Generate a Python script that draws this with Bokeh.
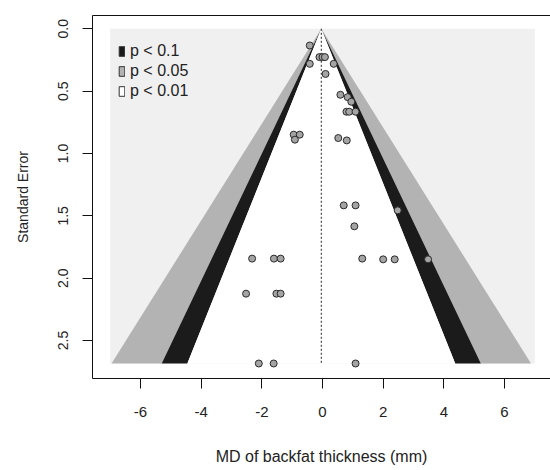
import math
from bokeh.plotting import figure
from bokeh.models import (ColumnDataSource, Range1d, FixedTicker, LinearAxis,
                          Legend, LegendItem)
from bokeh.embed import file_html
from bokeh.resources import INLINE

# Study-level mean differences and their standard errors
md = [-0.42, -0.10, 0.0, 0.08, -0.42, 0.37, 0.10, 0.59, 0.83, 0.95,
      0.79, 0.88, 1.09, -0.95, -0.75, -0.91, 0.52, 0.80, 0.70, 1.09,
      2.48, 1.05, -2.32, -1.60, -1.38, 1.31, 2.00, 2.38, 3.48, -2.52,
      -1.52, -1.38, -2.10, -1.61, 1.09]
se = [0.134, 0.227, 0.227, 0.227, 0.281, 0.281, 0.362, 0.529, 0.548, 0.585,
      0.665, 0.665, 0.665, 0.849, 0.849, 0.889, 0.876, 0.895, 1.416, 1.416,
      1.456, 1.584, 1.843, 1.843, 1.843, 1.843, 1.849, 1.849, 1.849, 2.124,
      2.124, 2.124, 2.684, 2.684, 2.684]

estimate = -0.04                     # pooled estimate (funnel centre)
xlim = [-7.0, 7.0]                   # shaded plotting region
z_levels = [2.576, 1.96, 1.645]      # contour edges, outermost first
band_colors = ["#b3b3b3", "#1b1b1b"]  # outer band, middle band
inner_color = "#ffffff"
legend_labels = ["p < 0.1", "p < 0.05", "p < 0.01"]
legend_colors = ["#1b1b1b", "#b3b3b3", "#ffffff"]
x_ticks = [-6, -4, -2, 0, 2, 4, 6]
x_tick_labels = ["-6", "-4", "-2", "0", "2", "4", "6"]
y_ticks = [0.0, 0.5, 1.0, 1.5, 2.0, 2.5]
y_tick_labels = ["0.0", "0.5", "1.0", "1.5", "2.0", "2.5"]

FONT = "Liberation Sans"
max_se = max(se)

p = figure(width=550, height=470, output_backend="svg", toolbar_location=None,
           x_range=Range1d(-7.582, 7.516), y_range=Range1d(2.8043, -0.10666),
           min_border_left=92, min_border_right=0, min_border_top=15,
           min_border_bottom=92, x_axis_location="below",
           y_axis_location="left")
p.outline_line_color = None
p.grid.visible = False
p.background_fill_color = "white"
p.border_fill_color = "white"

# light background over the plotting region
p.quad(left=[xlim[0]], right=[xlim[1]], bottom=[max_se], top=[0],
       fill_color="#f0f0f0", line_color=None)

# contour-enhanced funnel: side bands as separate wedges, then inner triangle
for i, col in enumerate(band_colors):
    zo, zi = z_levels[i], z_levels[i + 1]
    xs, ys = [], []
    for sgn in (-1, 1):
        xs.append([estimate, estimate + sgn * zo * max_se,
                   estimate + sgn * zi * max_se])
        ys.append([0, max_se, max_se])
    p.patches(xs, ys, fill_color=col, line_color=None)
half = z_levels[-1] * max_se
p.patch([estimate, estimate - half, estimate + half], [0, max_se, max_se],
        fill_color=inner_color, line_color=None)

# reference line at the pooled estimate
p.line([estimate, estimate], [0, max_se], line_color="#222222",
       line_width=1, line_dash="2 2")

# studies
src = ColumnDataSource(dict(md=md, se=se))
p.scatter("md", "se", source=src, size=7, fill_color="#a4a4a4",
          line_color="#2a2a2a", line_width=1)

# legend keys (one undrawn row each so the key swatch has its colour)
items = []
for lab, col in zip(legend_labels, legend_colors):
    r = p.quad(left=[math.nan], right=[math.nan], bottom=[math.nan],
               top=[math.nan], fill_color=col, line_color="#333333",
               line_width=1)
    items.append(LegendItem(label=lab, renderers=[r]))
leg = Legend(items=items, location="top_left", margin=26, padding=0,
             spacing=0, glyph_width=7, glyph_height=12, label_standoff=5,
             label_height=20, label_text_font=FONT,
             label_text_font_size="16px", label_text_color="#222222",
             background_fill_alpha=0, border_line_color=None)
p.add_layout(leg, "center")

# axes
xa = p.xaxis[0]
xa.ticker = FixedTicker(ticks=x_ticks)
xa.major_label_overrides = {t: s for t, s in zip(x_ticks, x_tick_labels)}
xa.axis_label = "MD of backfat thickness (mm)"
ya = p.yaxis[0]
ya.ticker = FixedTicker(ticks=y_ticks)
ya.major_label_overrides = {t: s for t, s in zip(y_ticks, y_tick_labels)}
ya.axis_label = "Standard Error"
ya.major_label_orientation = "parallel"

for ax, fs, lfs in ((xa, "15px", "16px"), (ya, "14px", "14px")):
    ax.minor_tick_line_color = None
    ax.major_tick_out = 10
    ax.major_tick_in = 0
    ax.axis_line_color = "#111111"
    ax.major_tick_line_color = "#111111"
    ax.major_label_text_font = FONT
    ax.major_label_text_font_size = fs
    ax.major_label_text_color = "#222222"
    ax.axis_label_text_font = FONT
    ax.axis_label_text_font_size = lfs
    ax.axis_label_text_font_style = "normal"
    ax.axis_label_text_color = "#222222"
xa.major_label_standoff = 18
xa.axis_label_standoff = 28
ya.major_label_standoff = 14
ya.axis_label_standoff = 25

# top frame line
top = LinearAxis(ticker=FixedTicker(ticks=[]), axis_line_color="#111111",
                 major_tick_line_color=None, minor_tick_line_color=None,
                 major_label_text_font_size="0px")
p.add_layout(top, "above")

open("out.html", "w").write(file_html(p, INLINE))
